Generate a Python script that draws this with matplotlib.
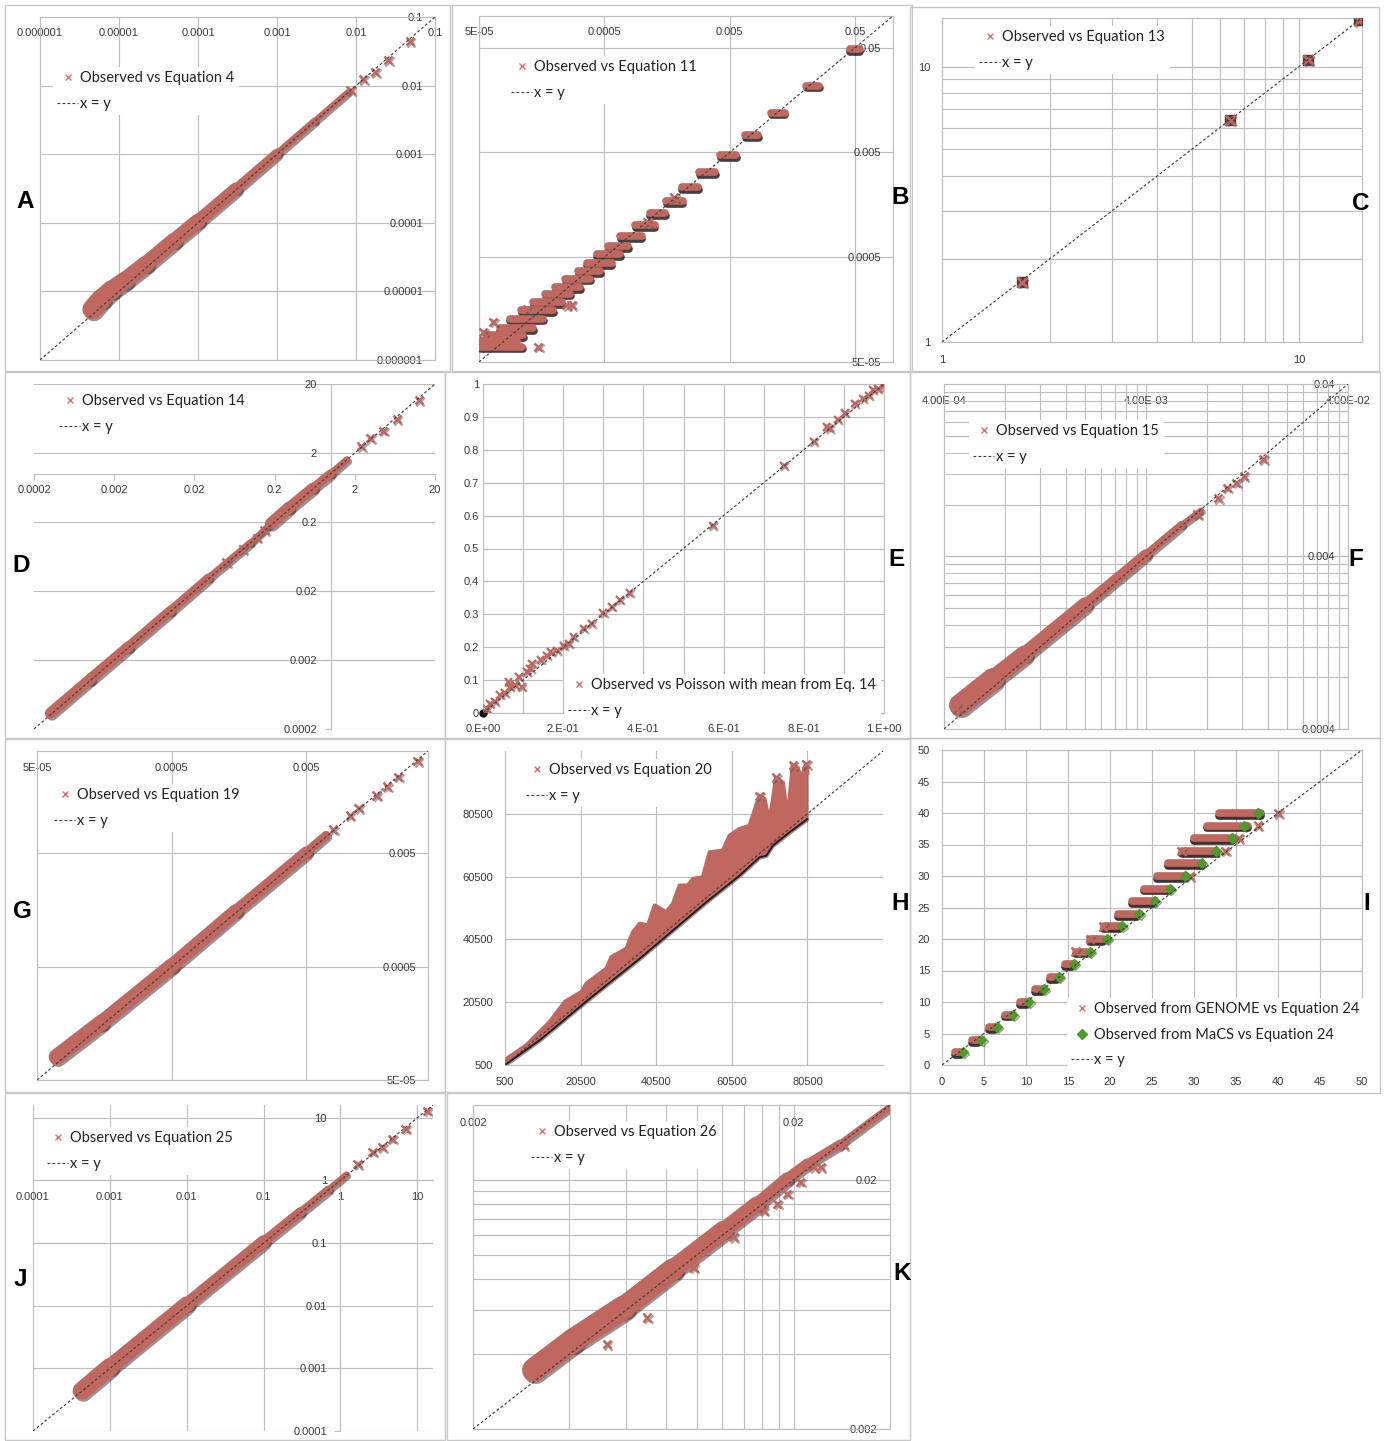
import matplotlib
matplotlib.use('Agg')
import matplotlib.pyplot as plt
import matplotlib.patheffects as pe
from matplotlib.patches import Rectangle
from matplotlib.lines import Line2D
from matplotlib.ticker import NullFormatter, NullLocator
import numpy as np

# ====================== DATA ======================
# Panel A  (log-log, Equation 4)
A_ticks = [1e-6, 1e-5, 1e-4, 1e-3, 1e-2, 1e-1]
A_labels = ['0.000001', '0.00001', '0.0001', '0.001', '0.01', '0.1']
A_diag = [1e-6, 0.1]
A_band_x = [4.6e-6, 6e-6, 8e-6, 1.2e-5, 2.2e-5, 5e-5, 1e-4, 3e-4, 1e-3, 3e-3, 8e-3]
A_band_y = [5.5e-6, 7.8e-6, 1.05e-5, 1.45e-5, 2.5e-5, 5.5e-5, 1.06e-4, 3.1e-4, 1.02e-3, 3.05e-3, 8.1e-3]
A_out_x = [0.0085, 0.0123, 0.0174, 0.0254, 0.048]
A_out_y = [0.0086, 0.0125, 0.0158, 0.0236, 0.0447]

# Panel B  (log-log, Equation 11) - discrete clusters
B_ticks = [5e-5, 5e-4, 5e-3, 5e-2]
B_labels = ['5E-05', '0.0005', '0.005', '0.05']
B_diag = [5e-5, 0.1]
B_y = [0.048, 0.0217, 0.0120, 0.00726, 0.00468, 0.00323, 0.00232, 0.00171, 0.00131,
       0.00101, 0.00079, 0.00064, 0.000531, 0.000436, 0.00037, 0.000312, 0.000261,
       0.000225, 0.000187, 0.000156, 0.00013, 0.000105, 9.0e-5, 7.9e-5, 7.0e-5]
B_x_lo = [0.0452, 0.0204, 0.01074, 0.00659, 0.00421, 0.00285, 0.00206, 0.00155, 0.00115,
          0.000875, 0.000665, 0.000536, 0.000434, 0.00036, 0.000309, 0.000242, 0.000202,
          0.000168, 0.000135, 0.000109, 8.8e-5, 7.3e-5, 5.75e-5, 5.1e-5, 5.1e-5]
B_x_hi = [0.0543, 0.0258, 0.0137, 0.0084, 0.00558, 0.0038, 0.0028, 0.0021, 0.00152,
          0.00126, 0.00099, 0.000774, 0.000664, 0.00057, 0.00046, 0.000383, 0.000319,
          0.000265, 0.000228, 0.000195, 0.000163, 0.000135, 0.000113, 0.0001, 0.00011]
B_out_x = [6.5e-5, 5.4e-5, 1.48e-4, 2.74e-4, 2.5e-4, 1.2e-4, 0.0011, 0.0018]
B_out_y = [1.21e-4, 9.7e-5, 7.0e-5, 1.74e-4, 1.74e-4, 1.6e-4, 0.00108, 0.00185]

# Panel C  (log-log, Equation 13)
C_ticks = [1, 10]
C_labels = ['1', '10']
C_diag = [1, 15]
C_x = [1.675, 6.41, 10.6, 14.7]
C_y = [1.65, 6.41, 10.6, 14.7]

# Panel D  (log-log, Equation 14)
D_ticks = [0.0002, 0.002, 0.02, 0.2, 2, 20]
D_labels = ['0.0002', '0.002', '0.02', '0.2', '2', '20']
D_diag = [0.0002, 20]
D_band_x = [3.2e-4, 1e-3, 3e-3, 1e-2, 3e-2, 0.1, 0.18, 0.3, 0.6, 1.0, 1.6]
D_band_y = [3.4e-4, 1.05e-3, 3.1e-3, 1.03e-2, 3.1e-2, 0.1, 0.19, 0.32, 0.62, 1.0, 1.6]
D_out_x = [0.05, 0.08, 0.12, 0.15, 2.4, 3.1, 4.5, 6.7, 12.6]
D_out_y = [0.052, 0.08, 0.118, 0.152, 2.5, 3.3, 4.2, 6.2, 11.7]

# Panel E  (linear, Poisson with mean from Eq. 14)
E_xticks = [0.0, 0.2, 0.4, 0.6, 0.8, 1.0]
E_xlabels = ['0.E+00', '2.E-01', '4.E-01', '6.E-01', '8.E-01', '1.E+00']
E_yticks = [0.0, 0.1, 0.2, 0.3, 0.4, 0.5, 0.6, 0.7, 0.8, 0.9, 1.0]
E_ylabels = ['0', '0.1', '0.2', '0.3', '0.4', '0.5', '0.6', '0.7', '0.8', '0.9', '1']
E_diag = [0, 1]
E_x = [0.0, 0.004, 0.01, 0.018, 0.03, 0.043, 0.055, 0.064, 0.068, 0.08, 0.089, 0.097, 0.11,
       0.118, 0.122, 0.143, 0.159, 0.168, 0.185, 0.201, 0.215, 0.226, 0.251, 0.271, 0.3,
       0.321, 0.342, 0.365, 0.573, 0.75, 0.825, 0.857, 0.865, 0.885, 0.902, 0.927, 0.948,
       0.962, 0.973, 0.985, 1.0]
E_y = [0.0, 0.005, 0.012, 0.028, 0.035, 0.054, 0.06, 0.094, 0.079, 0.085, 0.11, 0.079, 0.125,
       0.135, 0.15, 0.162, 0.175, 0.186, 0.19, 0.203, 0.21, 0.231, 0.257, 0.272, 0.304,
       0.323, 0.343, 0.365, 0.57, 0.752, 0.825, 0.87, 0.865, 0.892, 0.911, 0.941, 0.956,
       0.965, 0.982, 0.985, 0.992]

# Panel F  (log-log, Equation 15)
F_xticks = [4e-4, 4e-3, 4e-2]
F_xlabels = ['4.00E-04', '4.00E-03', '4.00E-02']
F_ylabels = ['0.0004', '0.004', '0.04']
F_diag = [4e-4, 4e-2]
F_band_x = [4.8e-4, 7e-4, 1e-3, 2e-3, 4e-3, 6e-3, 7.5e-3]
F_band_y = [5.5e-4, 7.8e-4, 1.08e-3, 2.1e-3, 4.1e-3, 6.1e-3, 7.4e-3]
F_out_x = [4.6e-4, 0.0072, 0.0091, 0.0101, 0.0112, 0.0122, 0.0152]
F_out_y = [5.3e-4, 0.0070, 0.0087, 0.0100, 0.0107, 0.0117, 0.0147]

# Panel G  (log-log, Equation 19)
G_ticks = [5e-5, 5e-4, 5e-3]
G_labels = ['5E-05', '0.0005', '0.005']
G_diag = [5e-5, 0.04]
G_band_x = [7e-5, 1.5e-4, 5e-4, 1.5e-3, 5e-3, 7e-3]
G_band_y = [8e-5, 1.6e-4, 5.1e-4, 1.55e-3, 5.1e-3, 7.2e-3]
G_out_x = [0.0079, 0.0105, 0.0122, 0.0166, 0.0199, 0.024, 0.0334]
G_out_y = [0.0081, 0.0108, 0.0125, 0.0162, 0.0194, 0.0237, 0.0326]

# Panel H  (linear, Equation 20)
H_ticks = [500, 20500, 40500, 60500, 80500]
H_labels = ['500', '20500', '40500', '60500', '80500']
H_diag = [500, 100500]
H_up_x = [500, 6230, 12380, 16340, 20750, 22070, 27350, 28670, 32630, 34380, 36140, 38340,
          40100, 43190, 44940, 46700, 48900, 50220, 52860, 54630, 58140, 59910, 62550,
          65190, 67830, 69150, 70470, 72230, 73990, 75300, 76620, 77940, 78820, 80140, 80500]
H_up_y = [2087, 6850, 14250, 20600, 23770, 26440, 31200, 34880, 37540, 42820, 45480, 44940,
          51290, 49170, 51830, 57640, 57640, 59760, 60270, 68220, 68750, 73520, 75630,
          76690, 86210, 85160, 77740, 92020, 90440, 78820, 95960, 95200, 91520, 96280, 93600]
H_lo_x = [500, 9740, 22940, 36140, 44940, 53750, 62550, 67830, 69650, 71340, 75750, 80500]
H_lo_y = [500, 8440, 21670, 34370, 43360, 52340, 60820, 66630, 67170, 70340, 74570, 78820]
H_out_x = [80140, 76620, 72230, 67830]
H_out_y = [96280, 95960, 92020, 86210]

# Panel I  (linear, Equation 24)
I_ticks = [0, 5, 10, 15, 20, 25, 30, 35, 40, 45, 50]
I_labels = ['0', '5', '10', '15', '20', '25', '30', '35', '40', '45', '50']
I_diag = [0, 50]
I_y = [2, 4, 6, 8, 10, 12, 14, 16, 18, 20, 22, 24, 26, 28, 30, 32, 34, 36, 38, 40]
I_x_lo = [1.6, 3.6, 5.6, 7.5, 9.3, 11.1, 12.8, 14.6, 16.0, 17.6, 19.3, 21.0, 22.6, 24.1,
          25.6, 26.9, 28.6, 30.0, 31.5, 33.0]
I_x_hi = [2.3, 4.3, 6.3, 8.2, 10.1, 11.9, 13.7, 15.5, 17.3, 19.2, 21.2, 23.2, 25.2, 27.0,
          28.8, 30.9, 32.6, 34.5, 36.4, 38.0]
I_g_x = [2.5, 4.7, 6.5, 8.4, 10.3, 12.1, 13.9, 15.7, 17.6, 19.6, 21.4, 23.5, 25.3, 27.1,
         28.9, 30.9, 32.6, 34.5, 36.0, 37.6]
I_out_x = [15.9, 17.6, 19.2, 29.5, 28.5, 33.7, 35.3, 37.6, 40.0]
I_out_y = [18, 20, 22, 30, 34, 34, 36, 38, 40]

# Panel J  (log-log, Equation 25)
J_ticks = [1e-4, 1e-3, 1e-2, 1e-1, 1, 10]
J_labels = ['0.0001', '0.001', '0.01', '0.1', '1', '10']
J_diag = [1e-4, 16]
J_band_x = [4.3e-4, 1e-3, 1e-2, 0.1, 0.3, 0.7, 1.2]
J_band_y = [4.4e-4, 1.05e-3, 1.05e-2, 0.105, 0.31, 0.72, 1.25]
J_out_x = [1.67, 2.6, 3.5, 4.7, 7.0, 13.5]
J_out_y = [1.83, 2.85, 3.4, 4.6, 6.7, 12.9]

# Panel K  (log-log, Equation 26)
K_ticks = [0.002, 0.02]
K_labels = ['0.002', '0.02']
K_diag = [0.002, 0.04]
K_band_x = [0.0031, 0.0041, 0.0059, 0.0084, 0.0121, 0.0154, 0.0191, 0.0221, 0.028, 0.0394]
K_band_y = [0.00345, 0.00453, 0.00615, 0.00875, 0.01257, 0.016, 0.0202, 0.0232, 0.0279, 0.0387]
K_out_x = [0.00523, 0.00698, 0.00976, 0.0130, 0.01615, 0.0178, 0.0191, 0.0210, 0.0231, 0.0243, 0.0287]
K_out_y = [0.00438, 0.0056, 0.00891, 0.01178, 0.0151, 0.01604, 0.01761, 0.01964, 0.02255, 0.02255, 0.0276]

# ====================== STYLE / LAYOUT ======================
W, H = 1385, 1441
RED = '#c0675f'
LEGRED = '#d4756e'
GREEN = '#4f9a2a'
GRID = '#bdbdbd'
FRAME = '#c8c8c8'
TXT = '#3a3a3a'
DIAGC = '#3a3a3a'
TS = 8
LEGFONT = 'Lato'
LFS = 10.5

plt.rcParams['font.family'] = ['Liberation Sans', 'DejaVu Sans']

fig = plt.figure(figsize=(W / 100, H / 100), dpi=100)
fig.patch.set_facecolor('white')

frames = [(5, 5, 450, 371), (452, 5, 912, 371), (910, 7, 1379, 371),
          (5, 372, 445, 738), (445, 372, 910, 738), (910, 372, 1380, 738),
          (5, 739, 445, 1092), (445, 739, 910, 1092), (910, 738, 1380, 1093),
          (5, 1093, 445, 1440), (447, 1093, 910, 1440)]
for (l, t, r, b) in frames:
    fig.add_artist(Rectangle((l / W, 1 - b / H), (r - l) / W, (b - t) / H,
                             transform=fig.transFigure, fill=False,
                             edgecolor=FRAME, lw=1.0))

letters = [('A', 25, 202), ('B', 900, 197), ('C', 1361, 204), ('D', 21, 565),
           ('E', 897, 559), ('F', 1356, 559), ('G', 22, 911), ('H', 900, 904),
           ('I', 1367, 904), ('J', 20, 1280), ('K', 902, 1273)]
for (s, x, y) in letters:
    fig.text(x / W, 1 - y / H, s, fontsize=17.5, fontweight='bold', color='black',
             ha='center', va='center', family='Liberation Sans')


def px_ax(box):
    l, t, r, b = box
    ax = fig.add_axes([l / W, 1 - b / H, (r - l) / W, (b - t) / H])
    ax.set_facecolor('white')
    return ax


SHADOW = pe.SimpleLineShadow(offset=(1.2, -1.5), shadow_color='#2a2a2a', alpha=0.5)


def band(ax, xs, ys, widths, color=RED):
    n = len(xs) - 1
    for i in range(n):
        ax.plot(xs[i:i + 2], ys[i:i + 2], color=color, lw=widths[i] * 0.72,
                solid_capstyle='round', path_effects=[SHADOW], zorder=3)
    for i in range(n):
        ax.plot(xs[i:i + 2], ys[i:i + 2], color=color, lw=widths[i] * 0.72,
                solid_capstyle='round', zorder=3.1)


def markers(ax, xs, ys, ms=6, color=RED, marker='x', mew=1.8):
    ln, = ax.plot(xs, ys, marker, ls='none', ms=ms, mew=mew, color=color,
                  path_effects=[pe.SimpleLineShadow(offset=(1, -1), shadow_color='#555555', alpha=0.5),
                                pe.Normal()], zorder=4)
    return ln


def diag(ax, d):
    ln, = ax.plot(d, d, color=DIAGC, lw=0.8, ls=(0, (2.5, 2)), zorder=5)
    return ln


def xproxy():
    return Line2D([], [], marker='x', ls='none', ms=5, mew=1.0, color=LEGRED)


def legend(ax, handles, labels, mx, my):
    fspx = LFS * 100 / 72
    bp = 0.3
    left = mx - bp * fspx - 0.75 * fspx
    top = my - bp * fspx - 0.62 * fspx + 4
    leg = ax.legend(handles, labels, loc='upper left',
                    bbox_to_anchor=(left / W, 1 - top / H), bbox_transform=fig.transFigure,
                    frameon=True, fancybox=False, framealpha=1, edgecolor='none',
                    facecolor='white', borderpad=bp, handlelength=1.45, handletextpad=0.15,
                    labelspacing=0.8, borderaxespad=0,
                    prop={'family': LEGFONT, 'size': LFS})
    leg.set_zorder(10)
    for t in leg.get_texts():
        t.set_color('#222222')
    return leg


def log_axes(ax, lim):
    ax.set_xscale('log')
    ax.set_yscale('log')
    ax.set_xlim(lim)
    ax.set_ylim(lim)
    ax.xaxis.set_minor_locator(NullLocator())
    ax.yaxis.set_minor_locator(NullLocator())


def spines(ax, color=GRID, which=('left', 'right', 'top', 'bottom')):
    for k, s in ax.spines.items():
        if k in which:
            s.set_color(color)
            s.set_linewidth(0.8)
        else:
            s.set_visible(False)


def inside_labels(ax, xt, xl, yt, yl, xpad=11, ypad=12):
    ax.set_xticks(xt, xl)
    ax.set_yticks(yt, yl)
    ax.xaxis.tick_top()
    ax.yaxis.tick_right()
    ax.tick_params(axis='x', which='both', length=0, pad=-xpad * 0.72, labelsize=TS,
                   labelcolor=TXT)
    ax.tick_params(axis='y', which='both', length=0, pad=-ypad * 0.72, labelsize=TS,
                   labelcolor=TXT)
    for lab in ax.get_xticklabels():
        lab.set_va('top')
    for lab in ax.get_yticklabels():
        lab.set_ha('right')


def minor_log(majors, lim):
    vals = []
    for m in majors + [majors[-1] * 10]:
        for k in range(2, 10):
            v = m * k
            if lim[0] < v < lim[1]:
                vals.append(v)
    return vals


def grid(ax, which='major', axis='both'):
    ax.grid(True, which=which, axis=axis, color=GRID, lw=0.8)
    ax.set_axisbelow(True)


# ---------------- A ----------------
ax = px_ax((40, 17, 435, 360))
log_axes(ax, (1e-6, 0.1))
spines(ax)
grid(ax)
inside_labels(ax, A_ticks, A_labels, A_ticks, A_labels)
band(ax, A_band_x, A_band_y, [20, 19, 18, 17, 16, 15, 13, 10, 7, 6])
markers(ax, A_out_x, A_out_y)
dA = diag(ax, A_diag)
legend(ax, [xproxy(), dA], ['Observed vs Equation 4', 'x = y'], 68, 76)

# ---------------- B ----------------
ax = px_ax((479, 16, 893, 362))
log_axes(ax, (5e-5, 0.1))
spines(ax)
grid(ax)
inside_labels(ax, B_ticks, B_labels, B_ticks, B_labels)
ax.hlines(B_y, B_x_lo, B_x_hi, color=RED, lw=5.5, capstyle='round', zorder=3,
          path_effects=[pe.SimpleLineShadow(offset=(0.5, -2), shadow_color='#111111', alpha=0.8),
                        pe.Normal()])
markers(ax, B_out_x, B_out_y)
dB = diag(ax, B_diag)
legend(ax, [xproxy(), dB], ['Observed vs Equation 11', 'x = y'], 522, 65)

# ---------------- C ----------------
ax = px_ax((942, 18, 1362, 342))
log_axes(ax, (1, 15))
spines(ax)
ax.set_xticks(C_ticks, C_labels)
ax.set_yticks(C_ticks, C_labels)
mn = minor_log(C_ticks, (1, 15))
ax.set_xticks(mn, minor=True)
ax.set_yticks(mn, minor=True)
ax.xaxis.set_minor_formatter(NullFormatter())
ax.yaxis.set_minor_formatter(NullFormatter())
ax.tick_params(axis='both', which='both', length=0, labelsize=TS, labelcolor=TXT)
ax.tick_params(axis='x', pad=13 * 0.72)
ax.tick_params(axis='y', pad=12 * 0.72)
grid(ax, which='both')
ax.plot(C_x, C_y, 's', ls='none', ms=7, color='#4a3a38', zorder=3.5)
markers(ax, C_x, C_y, ms=7, mew=2.2)
dC = diag(ax, C_diag)
legend(ax, [xproxy(), dC], ['Observed vs Equation 13', 'x = y'], 990, 35)

# ---------------- D ----------------
ax = px_ax((34, 384, 435, 729))
log_axes(ax, (0.0002, 20))
ax.set_xticks(D_ticks, D_labels)
ax.set_yticks(D_ticks, D_labels)
spines(ax, which=('left', 'bottom'))
ax.spines['left'].set_position(('data', 1))
ax.spines['bottom'].set_position(('data', 1))
ax.tick_params(axis='both', which='major', length=4, color=GRID, labelsize=TS,
               labelcolor=TXT)
ax.tick_params(axis='x', pad=6 * 0.72)
ax.tick_params(axis='y', pad=8 * 0.72)
grid(ax, axis='y')
band(ax, D_band_x, D_band_y, [11, 11, 10, 9, 7, 6, 12, 11, 9, 7])
markers(ax, D_out_x, D_out_y)
dD = diag(ax, D_diag)
legend(ax, [xproxy(), dD], ['Observed vs Equation 14', 'x = y'], 70, 399)

# ---------------- E ----------------
ax = px_ax((483, 384, 884, 713))
ax.set_xlim(0, 1)
ax.set_ylim(0, 1)
spines(ax)
ax.set_xticks(E_xticks, E_xlabels)
ax.set_yticks(E_yticks, E_ylabels)
ax.set_xticks(E_yticks, minor=True)
ax.xaxis.set_minor_formatter(NullFormatter())
ax.tick_params(axis='both', which='both', length=0, labelsize=TS, labelcolor=TXT)
ax.tick_params(axis='x', pad=11 * 0.72)
ax.tick_params(axis='y', pad=4 * 0.72)
grid(ax, which='both')
ax.plot([0.0], [0.0], 'o', ms=5, color='#111111', zorder=3.9, clip_on=False)
markers(ax, E_x, E_y, ms=5.5, mew=1.6)
dE = diag(ax, E_diag)
legend(ax, [xproxy(), dE], ['Observed vs Poisson with mean from Eq. 14', 'x = y'], 579, 683)

# ---------------- F ----------------
ax = px_ax((944, 384, 1348, 729))
lim = (4e-4, 4e-2)
log_axes(ax, lim)
spines(ax)
inside_labels(ax, F_xticks, F_xlabels, F_xticks, F_ylabels, xpad=12, ypad=13)
mn = minor_log(F_xticks[:-1], lim)
ax.set_xticks(mn, minor=True)
ax.set_yticks(mn, minor=True)
ax.xaxis.set_minor_formatter(NullFormatter())
ax.yaxis.set_minor_formatter(NullFormatter())
grid(ax, which='both')
band(ax, F_band_x, F_band_y, [22, 18, 15, 11, 8, 6])
markers(ax, F_out_x, F_out_y)
dF = diag(ax, F_diag)
legend(ax, [xproxy(), dF], ['Observed vs Equation 15', 'x = y'], 984, 429)

# ---------------- G ----------------
ax = px_ax((37, 751, 428, 1080))
log_axes(ax, (5e-5, 0.04))
spines(ax)
grid(ax)
inside_labels(ax, G_ticks, G_labels, G_ticks, G_labels, xpad=12)
band(ax, G_band_x, G_band_y, [16, 15, 14, 12, 9])
markers(ax, G_out_x, G_out_y)
dG = diag(ax, G_diag)
legend(ax, [xproxy(), dG], ['Observed vs Equation 19', 'x = y'], 65, 793)

# ---------------- H ----------------
ax = px_ax((505, 751, 883, 1065))
ax.set_xlim(500, 100500)
ax.set_ylim(500, 100500)
spines(ax, which=('left', 'bottom'))
ax.set_xticks(H_ticks, H_labels)
ax.set_yticks(H_ticks, H_labels)
ax.tick_params(axis='both', length=0, labelsize=TS, labelcolor=TXT)
ax.tick_params(axis='x', pad=12 * 0.72)
ax.tick_params(axis='y', pad=12 * 0.72)
grid(ax)
poly_x = list(H_up_x) + list(H_lo_x[::-1])
poly_y = list(H_up_y) + list(H_lo_y[::-1])
ax.fill(poly_x, poly_y, color=RED, zorder=3, lw=0,
        path_effects=[pe.SimplePatchShadow(offset=(1, -1.5), shadow_rgbFace='#333333', alpha=0.5),
                      pe.Normal()])
ax.plot(H_up_x, H_up_y, color=RED, lw=3, zorder=3.1, solid_joinstyle='round')
ax.plot(H_lo_x, H_lo_y, color='#1e1e1e', lw=1.4, zorder=3.2)
markers(ax, H_out_x, H_out_y)
dH = diag(ax, H_diag)
legend(ax, [xproxy(), dH], ['Observed vs Equation 20', 'x = y'], 537, 768)

# ---------------- I ----------------
ax = px_ax((942, 750, 1362, 1065))
ax.set_xlim(0, 50)
ax.set_ylim(0, 50)
spines(ax)
ax.set_xticks(I_ticks, I_labels)
ax.set_yticks(I_ticks, I_labels)
ax.tick_params(axis='both', length=0, labelsize=TS, labelcolor=TXT)
ax.tick_params(axis='x', pad=12 * 0.72)
ax.tick_params(axis='y', pad=12 * 0.72)
grid(ax)
ax.hlines(I_y, I_x_lo, I_x_hi, color=RED, lw=5.5, capstyle='round', zorder=3,
          path_effects=[pe.SimpleLineShadow(offset=(0, -2), shadow_color='#111111', alpha=0.85),
                        pe.Normal()])
markers(ax, I_out_x, I_out_y)
gI, = ax.plot(I_g_x, I_y, 'D', ls='none', ms=5, color=GREEN, zorder=4.5,
              path_effects=[pe.SimpleLineShadow(offset=(0.8, -0.8), shadow_color='#333333', alpha=0.5),
                            pe.Normal()])
dI = diag(ax, I_diag)
gproxy = Line2D([], [], marker='D', ls='none', ms=5, color=GREEN)
legend(ax, [xproxy(), gproxy, dI], ['Observed from GENOME vs Equation 24',
                                    'Observed from MaCS vs Equation 24', 'x = y'], 1082, 1007)

# ---------------- J ----------------
ax = px_ax((33, 1105, 433, 1431))
log_axes(ax, (1e-4, 16))
ax.set_xticks(J_ticks, J_labels)
ax.set_yticks(J_ticks, J_labels)
spines(ax, which=('left', 'bottom'))
ax.spines['left'].set_position(('data', 1))
ax.spines['bottom'].set_position(('data', 1))
ax.tick_params(axis='both', which='major', length=4, color=GRID, labelsize=TS,
               labelcolor=TXT)
ax.tick_params(axis='x', pad=6 * 0.72)
ax.tick_params(axis='y', pad=8 * 0.72)
grid(ax)
band(ax, J_band_x, J_band_y, [18, 16, 13, 10, 8, 6])
markers(ax, J_out_x, J_out_y)
dJ = diag(ax, J_diag)
legend(ax, [xproxy(), dJ], ['Observed vs Equation 25', 'x = y'], 58, 1136)

# ---------------- K ----------------
ax = px_ax((473, 1105, 890, 1429))
lim = (0.002, 0.04)
log_axes(ax, lim)
spines(ax)
inside_labels(ax, K_ticks, K_labels, K_ticks, K_labels, xpad=13, ypad=13)
mn = minor_log(K_ticks[:-1], lim)
ax.set_xticks(mn, minor=True)
ax.set_yticks(mn, minor=True)
ax.xaxis.set_minor_formatter(NullFormatter())
ax.yaxis.set_minor_formatter(NullFormatter())
grid(ax, which='both')
band(ax, K_band_x, K_band_y, [24, 24, 22, 19, 16, 13, 11, 9, 7])
markers(ax, K_out_x, K_out_y)
dK = diag(ax, K_diag)
legend(ax, [xproxy(), dK], ['Observed vs Equation 26', 'x = y'], 542, 1130)

fig.savefig('out.png', dpi=100, facecolor='white')
